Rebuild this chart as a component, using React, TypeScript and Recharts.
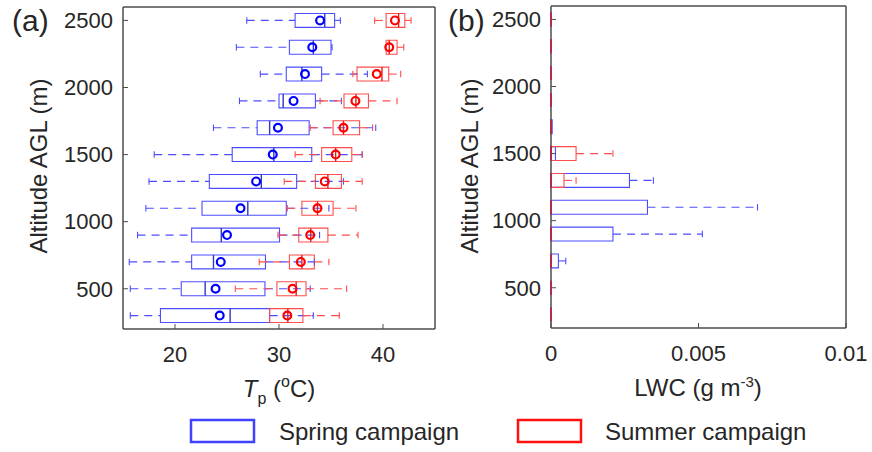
import React from "react";
import {ComposedChart, ReferenceArea, ReferenceLine, Scatter, XAxis, YAxis} from "recharts";

// altitude bins (m AGL), bottom to top
const altitudes = [300, 500, 700, 900, 1100, 1300, 1500, 1700, 1900, 2100, 2300, 2500];

// Tp (°C), spring campaign
const springTpMin = [15.7, 15.7, 15.6, 16.4, 17.2, 17.5, 18.0, 23.7, 26.2, 28.2, 25.9, 26.9];
const springTpQ1 = [18.6, 20.6, 21.6, 21.6, 22.6, 23.3, 25.5, 27.9, 30.0, 30.7, 31.0, 31.55];
const springTpMedian = [25.3, 22.9, 23.7, 24.45, 27.0, 28.3, 29.5, 29.1, 30.4, 32.2, 33.3, 34.4];
const springTpQ3 = [29.1, 28.65, 28.7, 30.05, 30.7, 31.7, 33.15, 32.9, 33.5, 34.1, 35.0, 35.35];
const springTpMax = [33.3, 33.0, 33.4, 33.9, 34.8, 36.2, 38.0, 39.3, 36.0, 38.5, 35.1, 35.9];
const springTpMean = [24.3, 23.9, 24.4, 25.0, 26.3, 27.8, 29.4, 29.9, 31.4, 32.5, 33.2, 33.95];

// Tp (°C), summer campaign
const summerTpMin = [29.1, 25.8, 28.1, 29.9, 30.8, 30.5, 31.55, 33.0, 33.95, 37.1, 40.3, 39.2];
const summerTpQ1 = [29.1, 29.8, 31.0, 31.9, 32.2, 33.5, 34.1, 35.2, 36.25, 37.5, 40.3, 40.3];
const summerTpMedian = [30.85, 31.65, 32.2, 33.05, 33.7, 34.7, 35.45, 36.2, 37.4, 39.9, 40.6, 41.5];
const summerTpQ3 = [32.3, 32.6, 33.4, 34.7, 35.2, 36.0, 37.0, 37.75, 38.6, 40.55, 41.35, 42.1];
const summerTpMax = [35.8, 36.5, 34.8, 37.6, 37.4, 38.0, 38.0, 39.0, 41.35, 41.7, 42.0, 42.7];
const summerTpMean = [30.8, 31.3, 32.1, 33.0, 33.7, 34.4, 35.45, 36.2, 37.35, 39.4, 40.6, 41.15];

// LWC (g m-3); min, q1 and median are zero in every bin
const lwcZero = [0, 0, 0, 0, 0, 0, 0, 0, 0, 0, 0, 0];
const springLwcQ3 = [0, 0, 0.00025, 0.0021, 0.00327, 0.00266, 0.00015, 0.00004, 0, 0, 0, 0];
const springLwcMax = [0, 0, 0.0005, 0.00513, 0.007, 0.00347, 0.00015, 0.00004, 0, 0, 0, 0];
const summerLwcQ3 = [0, 0, 0, 0, 0, 0.00044, 0.00085, 0, 0, 0, 0, 0];
const summerLwcMax = [0, 0, 0, 0, 0, 0.00085, 0.0021, 0, 0, 0, 0, 0];

const altitudeTicks = [500, 1000, 1500, 2000, 2500];
const tpTicks = [20, 30, 40];
const lwcTicks = [0, 0.005, 0.01];

const FONT = '"Liberation Sans", Arial, sans-serif';
const TEXT = "#262626";
const AXIS = "#4d4d4d";
const BLUE = "#4d4dff";
const BLUE_DARK = "#3535c8";
const RED = "#ff4d4d";
const RED_DARK = "#e02020";

const BOX_HALF = 52; // box half height, m
const CAP_HALF = 24; // whisker cap half height, m

interface Box {
  alt: number;
  min: number;
  q1: number;
  median: number;
  q3: number;
  max: number;
}

const makeBoxes = (min: number[], q1: number[], median: number[], q3: number[], max: number[]): Box[] =>
  altitudes.map((alt, i) => ({alt, min: min[i], q1: q1[i], median: median[i], q3: q3[i], max: max[i]}));

const springTp = makeBoxes(springTpMin, springTpQ1, springTpMedian, springTpQ3, springTpMax);
const summerTp = makeBoxes(summerTpMin, summerTpQ1, summerTpMedian, summerTpQ3, summerTpMax);
const springLwc = makeBoxes(lwcZero, lwcZero, lwcZero, springLwcQ3, springLwcMax);
const summerLwc = makeBoxes(lwcZero, lwcZero, lwcZero, summerLwcQ3, summerLwcMax);

// box + dashed whiskers with caps
const renderBoxes = (boxes: Box[], color: string, key: string) => {
  const out: React.ReactNode[] = [];
  boxes.forEach((b, i) => {
    const k = `${key}-${i}`;
    if (b.q3 > b.q1) {
      out.push(
        <ReferenceArea key={`${k}-box`} x1={b.q1} x2={b.q3} y1={b.alt - BOX_HALF} y2={b.alt + BOX_HALF}
                       fill="none" fillOpacity={0} stroke={color} strokeWidth={1.1}/>
      );
    }
    if (b.min < b.q1) {
      out.push(
        <ReferenceLine key={`${k}-wl`} segment={[{x: b.min, y: b.alt}, {x: b.q1, y: b.alt}]}
                       stroke={color} strokeWidth={1.1} strokeDasharray="8 6"/>,
        <ReferenceLine key={`${k}-cl`} segment={[{x: b.min, y: b.alt - CAP_HALF}, {x: b.min, y: b.alt + CAP_HALF}]}
                       stroke={color} strokeWidth={1.1}/>
      );
    }
    if (b.max > b.q3) {
      out.push(
        <ReferenceLine key={`${k}-wr`} segment={[{x: b.q3, y: b.alt}, {x: b.max, y: b.alt}]}
                       stroke={color} strokeWidth={1.1} strokeDasharray="8 6"/>,
        <ReferenceLine key={`${k}-cr`} segment={[{x: b.max, y: b.alt - CAP_HALF}, {x: b.max, y: b.alt + CAP_HALF}]}
                       stroke={color} strokeWidth={1.1}/>
      );
    }
  });
  return out;
};

const medianShape = (color: string) => (props: any) => (
  <line x1={props.cx} x2={props.cx} y1={props.cy - 7} y2={props.cy + 7} stroke={color} strokeWidth={1.4}/>
);

const meanShape = (color: string) => (props: any) => (
  <circle cx={props.cx} cy={props.cy} r={3.9} fill="none" stroke={color} strokeWidth={2.2}/>
);

const tickStyle = {fill: TEXT, fontSize: 22, fontFamily: FONT};
const axisLine = {stroke: AXIS, strokeWidth: 1.5};
const tickLine = {stroke: AXIS, strokeWidth: 1};

function Panel({xDomain, xTicks, spring, summer, springMean, summerMean, width, margin}: {
  xDomain: [number, number];
  xTicks: number[];
  spring: Box[];
  summer: Box[];
  springMean?: number[];
  summerMean?: number[];
  width: number;
  margin: { top: number; right: number; bottom: number; left: number };
}) {
  const springMedians = spring.map((b) => ({x: b.median, y: b.alt}));
  const summerMedians = summer.map((b) => ({x: b.median, y: b.alt}));
  return (
    <ComposedChart width={width} height={452} margin={margin}>
      <XAxis type="number" dataKey="x" domain={xDomain} ticks={xTicks} interval={0}
             tickSize={-5} tickMargin={22} height={30} axisLine={axisLine} tickLine={tickLine} tick={tickStyle}/>
      <XAxis xAxisId="top" orientation="top" type="number" dataKey="x" domain={xDomain} ticks={xTicks}
             interval={0} tickSize={-4} height={1} axisLine={axisLine} tickLine={tickLine} tick={false}/>
      <YAxis type="number" dataKey="y" domain={[200, 2600]} ticks={altitudeTicks} interval={0}
             tickSize={-5} tickMargin={15} width={60} axisLine={axisLine} tickLine={tickLine} tick={tickStyle}/>
      <YAxis yAxisId="right" orientation="right" type="number" dataKey="y" domain={[200, 2600]} ticks={altitudeTicks}
             interval={0} tickSize={-4} width={1} axisLine={axisLine} tickLine={tickLine} tick={false}/>
      {renderBoxes(spring, BLUE, "spring")}
      <Scatter data={springMedians} shape={medianShape(BLUE_DARK)} isAnimationActive={false}/>
      {renderBoxes(summer, RED, "summer")}
      {/* summer medians are read through the mirrored top/right axes (same domain and range) */}
      <Scatter data={summerMedians} xAxisId="top" yAxisId="right" shape={medianShape(RED_DARK)}
               isAnimationActive={false}/>
      {springMean && (
        <Scatter data={springMean.map((m, i) => ({x: m, y: altitudes[i]}))} shape={meanShape("#0000ff")}
                 isAnimationActive={false}/>
      )}
      {summerMean && (
        <Scatter data={summerMean.map((m, i) => ({x: m, y: altitudes[i]}))} shape={meanShape("#ff0000")}
                 isAnimationActive={false}/>
      )}
    </ComposedChart>
  );
}

export default function App() {
  return (
    <div style={{position: "absolute", left: 0, top: 0, width: 872, height: 452, background: "#fff", fontFamily: FONT}}>
      <div style={{position: "absolute", left: 0, top: 0}}>
        <Panel xDomain={[15, 45]} xTicks={tpTicks} spring={springTp} summer={summerTp}
               springMean={springTpMean} summerMean={summerTpMean}
               width={440} margin={{top: 6, right: 4, bottom: 93, left: 63}}/>
      </div>
      <div style={{position: "absolute", left: 440, top: 0}}>
        <Panel xDomain={[0, 0.01]} xTicks={lwcTicks} spring={springLwc} summer={summerLwc}
               width={432} margin={{top: 5, right: 25, bottom: 94, left: 51}}/>
      </div>
      <svg width={872} height={452} style={{position: "absolute", left: 0, top: 0, pointerEvents: "none"}}
           fontFamily={FONT} fill={TEXT}>
        <text x={12} y={31} fontSize={30}>(a)</text>
        <text x={448} y={31} fontSize={30}>(b)</text>
        <text transform="translate(47,166) rotate(-90)" textAnchor="middle" fontSize={24}>Altitude AGL (m)</text>
        <text transform="translate(478,166) rotate(-90)" textAnchor="middle" fontSize={24}>Altitude AGL (m)</text>
        <text x={279} y={397} textAnchor="middle" fontSize={24}>
          <tspan fontStyle="italic">T</tspan>
          <tspan fontSize={16} dy={6.5}>p</tspan>
          <tspan dy={-6.5}> (</tspan>
          <tspan fontSize={16} dy={-10}>o</tspan>
          <tspan dy={10}>C)</tspan>
        </text>
        <text x={698} y={396} textAnchor="middle" fontSize={24}>
          LWC (g m<tspan fontSize={15} dy={-9}>-3</tspan><tspan dy={9}>)</tspan>
        </text>
        <rect x={191} y={420} width={63} height={22} fill="none" stroke="#4040ff" strokeWidth={2.5}/>
        <text x={279} y={440} fontSize={24}>Spring campaign</text>
        <rect x={518} y={420} width={63} height={22} fill="none" stroke="#ff1010" strokeWidth={2.5}/>
        <text x={605} y={440} fontSize={24}>Summer campaign</text>
      </svg>
    </div>
  );
}
